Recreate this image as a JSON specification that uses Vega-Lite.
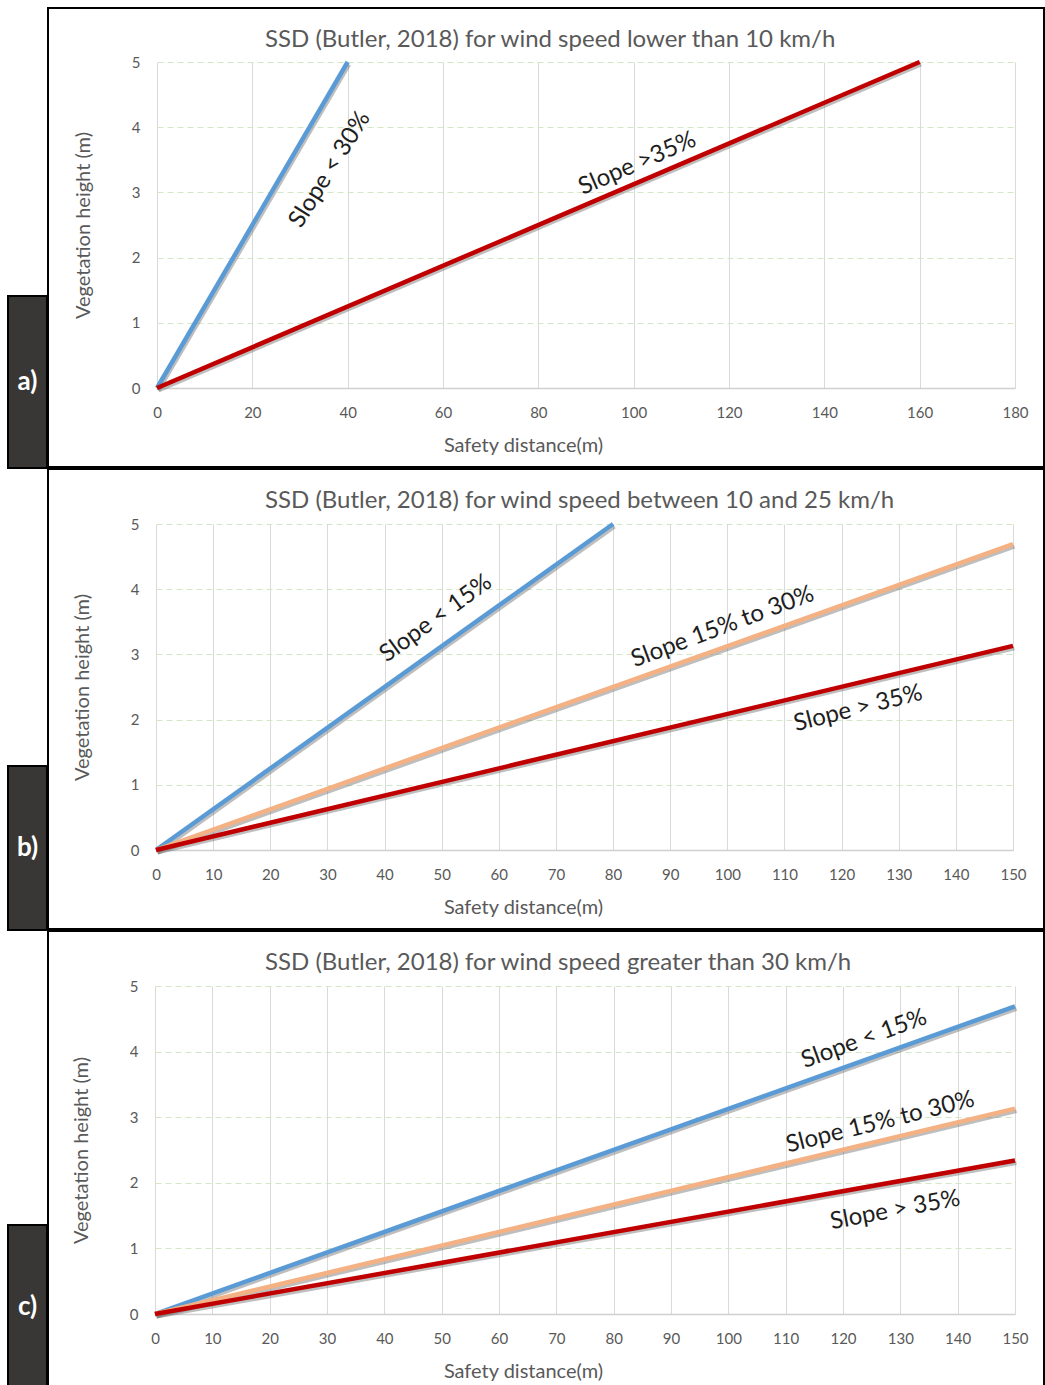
{
  "$schema": "https://vega.github.io/schema/vega-lite/v6.json",
  "background": "white",
  "padding": {"left": 7, "top": 7, "right": 0, "bottom": 0},
  "config": {
    "font": "Lato",
    "view": {"stroke": null},
    "axis": {"labelFont": "Lato", "labelFontSize": 15, "labelColor": "#595959", "titleFont": "Lato", "titleFontSize": 20, "titleFontWeight": "normal", "titleColor": "#595959", "labelFlush": false, "labelOverlap": false, "labelBound": false, "ticks": false},
    "axisX": {"orient": "top", "grid": true, "gridColor": "#d9d9d9", "gridWidth": 1, "domain": true, "domainColor": "#d0d0d0", "domainWidth": 1.5, "labelPadding": -17, "labelBaseline": "top", "labelAngle": 0, "titleX": 475, "titleY": 57, "titleBaseline": "middle", "titleAlign": "center"},
    "axisY": {"grid": true, "gridColor": "#d3e6c5", "gridDash": [6, 4], "gridWidth": 1, "domain": false, "labelPadding": 17, "titlePadding": 38},
    "title": {"font": "Lato", "fontSize": 24, "fontWeight": "normal", "color": "#595959", "anchor": "start", "frame": "group", "offset": -44, "dx": 217},
    "text": {"font": "Lato", "fontSize": 24, "color": "#1e1e1e", "align": "center", "baseline": "middle"}
  },
  "datasets": {
    "lines": [
      {"panel": "a", "series": "Slope < 30%", "distance": 0, "height": 0},
      {"panel": "a", "series": "Slope < 30%", "distance": 40, "height": 5},
      {"panel": "a", "series": "Slope > 35%", "distance": 0, "height": 0},
      {"panel": "a", "series": "Slope > 35%", "distance": 160, "height": 5},
      {"panel": "b", "series": "Slope < 15%", "distance": 0, "height": 0},
      {"panel": "b", "series": "Slope < 15%", "distance": 80, "height": 5},
      {"panel": "b", "series": "Slope 15% to 30%", "distance": 0, "height": 0},
      {"panel": "b", "series": "Slope 15% to 30%", "distance": 150, "height": 4.69},
      {"panel": "b", "series": "Slope > 35%", "distance": 0, "height": 0},
      {"panel": "b", "series": "Slope > 35%", "distance": 150, "height": 3.13},
      {"panel": "c", "series": "Slope < 15%", "distance": 0, "height": 0},
      {"panel": "c", "series": "Slope < 15%", "distance": 150, "height": 4.69},
      {"panel": "c", "series": "Slope 15% to 30%", "distance": 0, "height": 0},
      {"panel": "c", "series": "Slope 15% to 30%", "distance": 150, "height": 3.13},
      {"panel": "c", "series": "Slope > 35%", "distance": 0, "height": 0},
      {"panel": "c", "series": "Slope > 35%", "distance": 150, "height": 2.34}
    ],
    "notes": [
      {"panel": "a", "note": "Slope < 30%", "distance": 36.3, "height": 3.35},
      {"panel": "a", "note": "Slope >35%", "distance": 100.8, "height": 3.44},
      {"panel": "b", "note": "Slope < 15%", "distance": 49.0, "height": 3.55},
      {"panel": "b", "note": "Slope 15% to 30%", "distance": 99.2, "height": 3.42},
      {"panel": "b", "note": "Slope > 35%", "distance": 122.9, "height": 2.17},
      {"panel": "c", "note": "Slope < 15%", "distance": 123.7, "height": 4.19},
      {"panel": "c", "note": "Slope 15% to 30%", "distance": 126.5, "height": 2.92},
      {"panel": "c", "note": "Slope > 35%", "distance": 129.1, "height": 1.58}
    ],
    "tags": [
      {"panel": "a", "tag": "a)"},
      {"panel": "b", "tag": "b)"},
      {"panel": "c", "tag": "c)"}
    ],
    "blank": [{"panel": "none"}]
  },
  "spacing": -2,
  "vconcat": [
    {
      "spacing": -2,
      "hconcat": [
        {
          "spacing": 0,
          "vconcat": [
            {"width": 39, "height": 287, "data": {"name": "blank"}, "mark": {"type": "text", "text": ""}, "view": {"stroke": null}},
            {"width": 39, "height": 172, "data": {"name": "tags"}, "transform": [{"filter": "datum.panel == 'a'"}], "mark": {"type": "text", "fontSize": 26, "fontWeight": "bold", "color": "white"}, "encoding": {"text": {"field": "tag"}}, "view": {"fill": "#393735", "stroke": "black", "strokeWidth": 2}}
          ]
        },
        {
          "width": 996,
          "height": 459,
          "view": {"stroke": "black", "strokeWidth": 2, "fill": "white"},
          "title": "SSD (Butler, 2018) for wind speed lower than 10 km/h",
          "encoding": {
            "x": {"field": "distance", "type": "quantitative", "scale": {"domain": [0, 180], "range": [109, 967], "nice": false, "zero": false}, "axis": {"values": [0, 20, 40, 60, 80, 100, 120, 140, 160, 180], "offset": -380, "title": "Safety distance(m)"}},
            "y": {"field": "height", "type": "quantitative", "scale": {"domain": [0, 5], "range": [380, 54], "nice": false, "zero": false}, "axis": {"values": [0, 1, 2, 3, 4, 5], "offset": -109, "title": "Vegetation height (m)"}}
          },
          "layer": [
            {"data": {"name": "lines"}, "transform": [{"filter": "datum.panel == 'a'"}], "mark": {"type": "line", "stroke": "#6e6e6e", "strokeWidth": 4, "opacity": 0.45, "xOffset": 1.5, "yOffset": 2.5}, "encoding": {"detail": {"field": "series"}}},
            {"data": {"name": "lines"}, "transform": [{"filter": "datum.panel == 'a'"}], "mark": {"type": "line", "strokeWidth": 4.5}, "encoding": {"color": {"field": "series", "type": "nominal", "scale": {"domain": ["Slope < 30%", "Slope < 15%", "Slope 15% to 30%", "Slope > 35%"], "range": ["#5b9bd5", "#5b9bd5", "#f4b183", "#c00000"]}, "legend": null}}},
            {"data": {"name": "notes"}, "transform": [{"filter": "datum.panel == 'a' && datum.note == 'Slope < 30%'"}], "mark": {"type": "text", "angle": 302}, "encoding": {"text": {"field": "note"}}},
            {"data": {"name": "notes"}, "transform": [{"filter": "datum.panel == 'a' && datum.note == 'Slope >35%'"}], "mark": {"type": "text", "angle": 336.5}, "encoding": {"text": {"field": "note"}}}
          ]
        }
      ]
    },
    {
      "spacing": -2,
      "hconcat": [
        {
          "spacing": 0,
          "vconcat": [
            {"width": 39, "height": 296, "data": {"name": "blank"}, "mark": {"type": "text", "text": ""}, "view": {"stroke": null}},
            {"width": 39, "height": 164, "data": {"name": "tags"}, "transform": [{"filter": "datum.panel == 'b'"}], "mark": {"type": "text", "fontSize": 26, "fontWeight": "bold", "color": "white"}, "encoding": {"text": {"field": "tag"}}, "view": {"fill": "#393735", "stroke": "black", "strokeWidth": 2}}
          ]
        },
        {
          "width": 996,
          "height": 460,
          "view": {"stroke": "black", "strokeWidth": 2, "fill": "white"},
          "title": "SSD (Butler, 2018) for wind speed between 10 and 25 km/h",
          "encoding": {
            "x": {"field": "distance", "type": "quantitative", "scale": {"domain": [0, 150], "range": [108, 965], "nice": false, "zero": false}, "axis": {"values": [0, 10, 20, 30, 40, 50, 60, 70, 80, 90, 100, 110, 120, 130, 140, 150], "offset": -381, "title": "Safety distance(m)"}},
            "y": {"field": "height", "type": "quantitative", "scale": {"domain": [0, 5], "range": [381, 55], "nice": false, "zero": false}, "axis": {"values": [0, 1, 2, 3, 4, 5], "offset": -108, "title": "Vegetation height (m)"}}
          },
          "layer": [
            {"data": {"name": "lines"}, "transform": [{"filter": "datum.panel == 'b'"}], "mark": {"type": "line", "stroke": "#6e6e6e", "strokeWidth": 4, "opacity": 0.45, "xOffset": 1.5, "yOffset": 2.5}, "encoding": {"detail": {"field": "series"}}},
            {"data": {"name": "lines"}, "transform": [{"filter": "datum.panel == 'b'"}], "mark": {"type": "line", "strokeWidth": 4.5}, "encoding": {"color": {"field": "series", "type": "nominal", "scale": {"domain": ["Slope < 30%", "Slope < 15%", "Slope 15% to 30%", "Slope > 35%"], "range": ["#5b9bd5", "#5b9bd5", "#f4b183", "#c00000"]}, "legend": null}}},
            {"data": {"name": "notes"}, "transform": [{"filter": "datum.panel == 'b' && datum.note == 'Slope < 15%'"}], "mark": {"type": "text", "angle": 324}, "encoding": {"text": {"field": "note"}}},
            {"data": {"name": "notes"}, "transform": [{"filter": "datum.panel == 'b' && datum.note == 'Slope 15% to 30%'"}], "mark": {"type": "text", "angle": 339.5}, "encoding": {"text": {"field": "note"}}},
            {"data": {"name": "notes"}, "transform": [{"filter": "datum.panel == 'b' && datum.note == 'Slope > 35%'"}], "mark": {"type": "text", "angle": 346}, "encoding": {"text": {"field": "note"}}}
          ]
        }
      ]
    },
    {
      "spacing": -2,
      "hconcat": [
        {
          "spacing": 0,
          "vconcat": [
            {"width": 39, "height": 293, "data": {"name": "blank"}, "mark": {"type": "text", "text": ""}, "view": {"stroke": null}},
            {"width": 39, "height": 163, "data": {"name": "tags"}, "transform": [{"filter": "datum.panel == 'c'"}], "mark": {"type": "text", "fontSize": 26, "fontWeight": "bold", "color": "white"}, "encoding": {"text": {"field": "tag"}}, "view": {"fill": "#393735", "stroke": "black", "strokeWidth": 2}}
          ]
        },
        {
          "width": 996,
          "height": 456,
          "view": {"stroke": "black", "strokeWidth": 2, "fill": "white"},
          "title": "SSD (Butler, 2018) for wind speed greater than 30 km/h",
          "encoding": {
            "x": {"field": "distance", "type": "quantitative", "scale": {"domain": [0, 150], "range": [107, 967], "nice": false, "zero": false}, "axis": {"values": [0, 10, 20, 30, 40, 50, 60, 70, 80, 90, 100, 110, 120, 130, 140, 150], "offset": -383, "title": "Safety distance(m)"}},
            "y": {"field": "height", "type": "quantitative", "scale": {"domain": [0, 5], "range": [383, 55], "nice": false, "zero": false}, "axis": {"values": [0, 1, 2, 3, 4, 5], "offset": -107, "title": "Vegetation height (m)"}}
          },
          "layer": [
            {"data": {"name": "lines"}, "transform": [{"filter": "datum.panel == 'c'"}], "mark": {"type": "line", "stroke": "#6e6e6e", "strokeWidth": 4, "opacity": 0.45, "xOffset": 1.5, "yOffset": 2.5}, "encoding": {"detail": {"field": "series"}}},
            {"data": {"name": "lines"}, "transform": [{"filter": "datum.panel == 'c'"}], "mark": {"type": "line", "strokeWidth": 4.5}, "encoding": {"color": {"field": "series", "type": "nominal", "scale": {"domain": ["Slope < 30%", "Slope < 15%", "Slope 15% to 30%", "Slope > 35%"], "range": ["#5b9bd5", "#5b9bd5", "#f4b183", "#c00000"]}, "legend": null}}},
            {"data": {"name": "notes"}, "transform": [{"filter": "datum.panel == 'c' && datum.note == 'Slope < 15%'"}], "mark": {"type": "text", "angle": 340}, "encoding": {"text": {"field": "note"}}},
            {"data": {"name": "notes"}, "transform": [{"filter": "datum.panel == 'c' && datum.note == 'Slope 15% to 30%'"}], "mark": {"type": "text", "angle": 346}, "encoding": {"text": {"field": "note"}}},
            {"data": {"name": "notes"}, "transform": [{"filter": "datum.panel == 'c' && datum.note == 'Slope > 35%'"}], "mark": {"type": "text", "angle": 349.5}, "encoding": {"text": {"field": "note"}}}
          ]
        }
      ]
    }
  ]
}
